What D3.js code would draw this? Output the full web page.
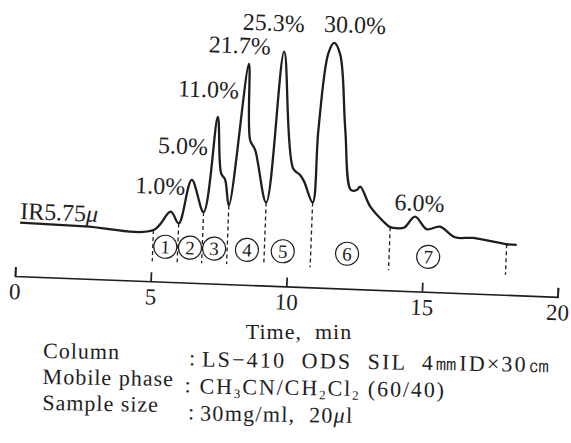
<!DOCTYPE html>
<html>
<head>
<meta charset="utf-8">
<script src="https://cdn.jsdelivr.net/npm/d3@7"></script>
<style>
  body { margin: 0; background: #fff; }
</style>
</head>
<body>
<svg id="chart" width="571" height="443"></svg>
<script>
// recorder trace: time (min) and pen height above the time axis
var traceTime = [0.11, 2.51, 5.03, 5.64, 5.95, 6.37, 6.85, 7.24, 7.44, 7.60, 7.77, 8.31, 8.46, 8.66, 9.14,
    9.59, 10.08, 10.35, 10.51, 10.85, 10.96, 11.22, 11.42, 11.66, 11.95, 12.24, 12.46, 12.58, 12.98,
    13.49, 13.74, 13.99, 14.26, 14.64, 15.09, 15.57, 16.14, 16.81, 18.05, 18.42];
var traceLevel = [53.5, 52.2, 51.3, 70.3, 58.8, 102.8, 71.2, 166.8, 110.6, 104.1, 78.7, 221.0, 145.0, 135.2, 83.1,
    234.6, 118.4, 111.9, 105.4, 84.9, 157.6, 234.7, 245.2, 233.5, 158.7, 98.9, 99.1, 102.5, 82.9,
    68.4, 63.2, 62.4, 63.4, 74.7, 62.5, 65.6, 55.6, 55.6, 50.6, 50.3];

// fraction cuts and fraction numbers
var cutTime = [5.03, 5.95, 6.85, 7.77, 9.14, 10.85, 13.74, 18.05];
var fractionName = ["1", "2", "3", "4", "5", "6", "7"];
var fractionTime = [5.49, 6.40, 7.29, 8.50, 9.82, 12.19, 15.18];

// area percentages written over the peaks
var peakText = ["1.0%", "5.0%", "11.0%", "21.7%", "25.3%", "30.0%", "6.0%"];
var peakTime = [5.22, 6.0, 6.86, 7.95, 9.17, 12.16, 14.79];
var peakLevel = [87.6, 128.4, 185.9, 231.1, 254.9, 256, 80.5];

var axisTicks = [0, 5, 10, 15, 20];

var captionLabel = ["Column", "Mobile phase", "Sample size"];
var captionValue = ["LS\u2212410  ODS  SIL  4\u339cID\u00d730\u339d", "CH_3CN/CH_2Cl_2 (60/40)", "30mg/ml,  20\u03bcl"];

var serif = "'Liberation Serif'";
var ink = "#1e1e1e";

var svg = d3.select("#chart");
var x = d3.scaleLinear().domain([0, 20]).range([15, 558]),
    y = d3.scaleLinear().domain([0, 260]).range([276, 16]);

// the printed figure sits slightly tilted
var plot = svg.append("g").attr("transform", "rotate(2.2,15,276)");

var ax = plot.append("g").attr("transform", "translate(0," + y(0) + ")")
    .call(d3.axisBottom(x).tickValues(axisTicks).tickSize(-9).tickPadding(7));
ax.attr("font-family", null).attr("font-size", null);
ax.selectAll("path, line").attr("stroke", ink).attr("stroke-width", 1.7);
ax.selectAll("text").style("font-size", "23px");

var pts = traceTime.map(function (d, i) { return [d, traceLevel[i]]; });
var line = d3.line().x(function (d) { return x(d[0]); }).y(function (d) { return y(d[1]); })
    .curve(d3.curveCatmullRom.alpha(0.5));
plot.append("path").datum(pts).attr("d", line)
    .attr("fill", "none").attr("stroke", ink).attr("stroke-width", 2.3).attr("stroke-linejoin", "round");

function levelAt(t) {
    var i = d3.bisectLeft(traceTime, t);
    if (traceTime[i] === t) return traceLevel[i];
    var a = i - 1;
    return traceLevel[a] + (traceLevel[i] - traceLevel[a]) * (t - traceTime[a]) / (traceTime[i] - traceTime[a]);
}

plot.selectAll(".cut").data(cutTime).enter().append("line").attr("class", "cut")
    .attr("x1", function (d) { return x(d); }).attr("x2", function (d) { return x(d); })
    .attr("y1", function (d) { return y(levelAt(d)); }).attr("y2", y(20))
    .attr("stroke", ink).attr("stroke-width", 1.3).attr("stroke-dasharray", "4,3");

var frac = plot.selectAll(".frac").data(fractionName).enter().append("g").attr("class", "frac")
    .attr("transform", function (d, i) { return "translate(" + x(fractionTime[i]) + "," + y(35) + ")"; });
frac.append("circle").attr("r", 11.5).attr("fill", "none").attr("stroke", ink).attr("stroke-width", 1.2);
frac.append("text").attr("text-anchor", "middle").attr("dy", "0.35em").style("font-size", "19px").text(function (d) { return d; });

plot.selectAll(".pct").data(peakText).enter().append("text").attr("class", "pct")
    .attr("x", function (d, i) { return x(peakTime[i]); })
    .attr("y", function (d, i) { return y(peakLevel[i]); })
    .attr("text-anchor", "middle").style("font-size", "24px").text(function (d) { return d; });

var ir = plot.append("text").attr("x", x(0.10)).attr("y", y(57.2)).style("font-size", "24px");
ir.append("tspan").text("IR5.75");
ir.append("tspan").style("font-style", "italic").text("\u03bc");

// caption
svg.append("text").attr("x", 299).attr("y", 339).attr("text-anchor", "middle")
    .style("font-size", "22px").style("letter-spacing", "1px").style("white-space", "pre").text("Time,  min");

function richText(sel, s) {
    var parts = s.split(/(_\d|\u03bc)/), back = 0;
    parts.forEach(function (p) {
        if (!p) return;
        var t;
        if (p[0] === "_") {
            sel.append("tspan").style("font-size", "13px").attr("dy", 4 - back).text(p[1]);
            back = 4;
            return;
        }
        t = sel.append("tspan").text(p);
        if (back) t.attr("dy", -back);
        back = 0;
        if (p === "\u03bc") t.style("font-style", "italic");
    });
}

var cap = svg.append("g").attr("transform", "rotate(0.9,43,358)");
var rowBase = [358, 384, 410], colonX = [189, 185, 189], valueX = [202, 200, 201],
    valueDrop = [6, 7, 8], valueSpacing = [2.2, 1.9, 1.3];
captionLabel.forEach(function (d, i) {
    cap.append("text").attr("x", 43).attr("y", rowBase[i]).style("font-size", "22px")
        .style("letter-spacing", "1px").style("white-space", "pre").text(d);
    cap.append("text").attr("x", colonX[i]).attr("y", rowBase[i] + valueDrop[i] - 1).style("font-size", "22px").text(":");
    var v = cap.append("text").attr("x", valueX[i]).attr("y", rowBase[i] + valueDrop[i]).style("font-size", "22px")
        .style("white-space", "pre").style("letter-spacing", valueSpacing[i] + "px");
    richText(v, captionValue[i]);
});

svg.selectAll("text").style("font-family", serif).style("fill", ink);
</script>
</body>
</html>
